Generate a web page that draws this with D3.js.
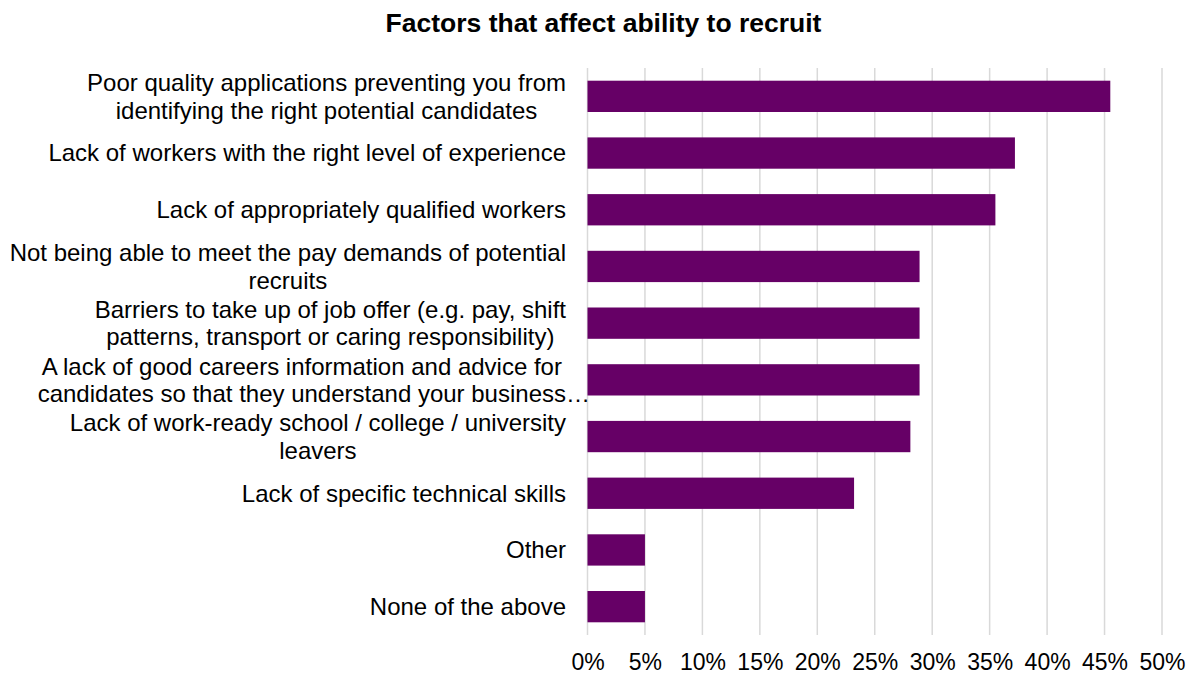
<!DOCTYPE html>
<html>
<head>
<meta charset="utf-8">
<script src="https://cdn.jsdelivr.net/npm/d3@7"></script>
<style>
  html, body { margin: 0; padding: 0; background: #fff; }
  svg text { font-family: "Liberation Sans", Arial, sans-serif; fill: #000; }
</style>
</head>
<body>
<svg id="chart" width="1195" height="675"></svg>
<script>
// Category labels (line breaks as shown on the axis), top to bottom
const categories = [
  "Poor quality applications preventing you from\nidentifying the right potential candidates",
  "Lack of workers with the right level of experience",
  "Lack of appropriately qualified workers",
  "Not being able to meet the pay demands of potential\nrecruits",
  "Barriers to take up of job offer (e.g. pay, shift\npatterns, transport or caring responsibility)",
  "A lack of good careers information and advice for\ncandidates so that they understand your business…",
  "Lack of work-ready school / college / university\nleavers",
  "Lack of specific technical skills",
  "Other",
  "None of the above"
];
// Share of respondents (%)
const values = [45.5, 37.2, 35.5, 28.9, 28.9, 28.9, 28.1, 23.2, 5.0, 5.0];
const tickValues = [0, 5, 10, 15, 20, 25, 30, 35, 40, 45, 50];
const title = "Factors that affect ability to recruit";

const svg = d3.select("#chart");
const plot = { left: 587.5, right: 1162, top: 68, bottom: 635 };
const labelRight = 566;
const fontSize = 24;
const lineHeight = 27.5;

const x = d3.scaleLinear().domain([0, 50]).range([plot.left, plot.right]);
const y = d3.scaleBand().domain(d3.range(categories.length))
  .range([plot.top, plot.bottom]).paddingInner(0.448).paddingOuter(0.224);

// Title
svg.append("text")
  .attr("x", 603.5).attr("y", 32)
  .attr("text-anchor", "middle")
  .style("font-size", "26.5px").style("font-weight", "bold")
  .text(title);

// Vertical gridlines
svg.append("g").selectAll("line").data(tickValues).join("line")
  .attr("x1", d => x(d)).attr("x2", d => x(d))
  .attr("y1", plot.top).attr("y2", plot.bottom)
  .attr("stroke", "#d9d9d9").attr("stroke-width", 1.5);

// Bars
svg.append("g").selectAll("rect").data(values).join("rect")
  .attr("x", x(0))
  .attr("y", (d, i) => y(i))
  .attr("width", d => x(d) - x(0))
  .attr("height", y.bandwidth())
  .attr("fill", "#660066");

// X axis tick labels
const xAxis = d3.axisBottom(x).tickValues(tickValues).tickSize(0).tickPadding(0)
  .tickFormat(d => d + "%");
const gx = svg.append("g").attr("transform", `translate(0, ${plot.bottom + 19})`).call(xAxis);
gx.select(".domain").remove();
gx.selectAll("text").style("font-size", "23px")
  .style("font-family", '"Liberation Sans", Arial, sans-serif').attr("fill", "#000");

// Category labels: block right-aligned, lines centred within the block
const gy = svg.append("g");
categories.forEach((label, i) => {
  const lines = label.split("\n");
  const cy = y(i) + y.bandwidth() / 2;
  const t = gy.append("text").style("font-size", fontSize + "px");
  const tsp = lines.map((ln, k) => t.append("tspan")
    .attr("y", cy + (k - (lines.length - 1) / 2) * lineHeight)
    .attr("dy", "0.35em")
    .text(ln));
  // width of each line, not counting a trailing ellipsis
  const widths = tsp.map((s, k) => {
    const ln = lines[k];
    if (ln.endsWith("…")) {
      const tmp = gy.append("text").style("font-size", fontSize + "px").text(ln.slice(0, -1));
      const w = tmp.node().getComputedTextLength();
      tmp.remove();
      return w;
    }
    return s.node().getComputedTextLength();
  });
  const maxW = d3.max(widths);
  const cx = labelRight - maxW / 2;
  tsp.forEach((s, k) => s.attr("x", cx - widths[k] / 2));
});
</script>
</body>
</html>
